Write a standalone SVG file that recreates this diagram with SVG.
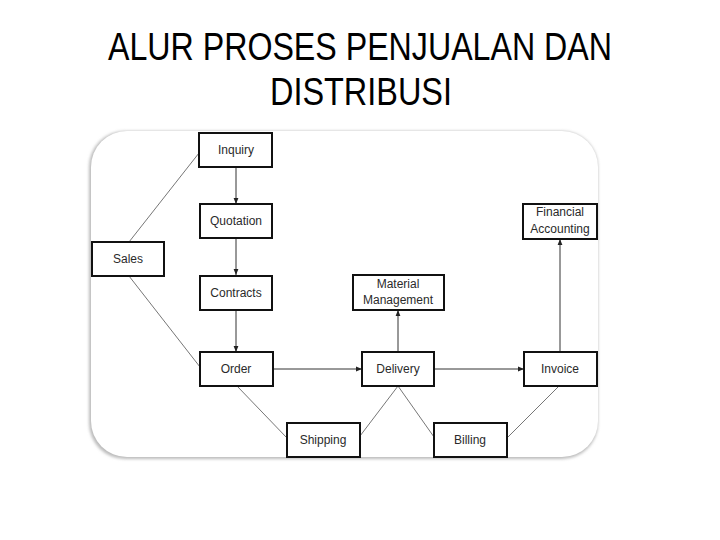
<svg xmlns="http://www.w3.org/2000/svg" width="720" height="540" viewBox="0 0 720 540">
<defs>
<style>
.title{font-family:"Liberation Sans",Arial,sans-serif;font-size:38px;fill:#000;text-anchor:middle}
.box{fill:#fff;stroke:#111;stroke-width:2}
.lbl{font-family:"Liberation Sans",Arial,sans-serif;font-size:12px;fill:#2a2a2a;text-anchor:middle}
.arr{stroke:#333;stroke-width:1;fill:none;marker-end:url(#ah)}
.lnk{stroke:#666;stroke-width:0.9;fill:none}
</style>
<marker id="ah" viewBox="0 0 10 10" refX="10" refY="5" markerWidth="6" markerHeight="6" orient="auto" markerUnits="userSpaceOnUse">
<path d="M0,1 L10,5 L0,9 Z" fill="#222"/>
</marker>
<filter id="sh" x="-5%" y="-5%" width="110%" height="110%">
<feGaussianBlur stdDeviation="1.5"/>
</filter>
</defs>
<rect width="720" height="540" fill="#fff"/>
<text class="title" x="360" y="60" textLength="504" lengthAdjust="spacingAndGlyphs">ALUR PROSES PENJUALAN DAN</text>
<text class="title" x="361" y="105" textLength="182" lengthAdjust="spacingAndGlyphs">DISTRIBUSI</text>
<rect x="89" y="131" width="509" height="328" rx="36" fill="#bbb" filter="url(#sh)"/>
<rect x="91" y="131" width="507" height="326" rx="36" fill="#fff"/>
<g id="connectors">
<line class="arr" x1="236" y1="167" x2="236" y2="204"/>
<line class="arr" x1="236" y1="238" x2="236" y2="275"/>
<line class="arr" x1="236" y1="310" x2="236" y2="352"/>
<line class="arr" x1="273" y1="369" x2="362" y2="369"/>
<line class="arr" x1="434" y1="369" x2="524" y2="369"/>
<line class="arr" x1="398" y1="352" x2="398" y2="310"/>
<line class="arr" x1="560" y1="352" x2="560" y2="239"/>
<line class="lnk" x1="129" y1="242" x2="199" y2="153"/>
<line class="lnk" x1="129" y1="276" x2="200" y2="367"/>
<line class="lnk" x1="237" y1="386" x2="287" y2="438"/>
<line class="lnk" x1="398" y1="386" x2="360" y2="436"/>
<line class="lnk" x1="398" y1="386" x2="434" y2="437"/>
<line class="lnk" x1="559" y1="386" x2="507" y2="438"/>
</g>
<g id="inquiry"><rect class="box" x="199" y="133" width="73" height="34"/><text class="lbl" x="236" y="154">Inquiry</text></g>
<g id="quotation"><rect class="box" x="200" y="204" width="72" height="34"/><text class="lbl" x="236" y="225">Quotation</text></g>
<g id="sales"><rect class="box" x="92" y="242" width="72" height="34"/><text class="lbl" x="128" y="263">Sales</text></g>
<g id="contracts"><rect class="box" x="200" y="276" width="72" height="34"/><text class="lbl" x="236" y="297">Contracts</text></g>
<g id="material"><rect class="box" x="353" y="275" width="91" height="35"/><text class="lbl" x="398" y="288">Material</text><text class="lbl" x="398" y="304">Management</text></g>
<g id="financial"><rect class="box" x="523" y="204" width="74" height="35"/><text class="lbl" x="560" y="216">Financial</text><text class="lbl" x="560" y="233">Accounting</text></g>
<g id="order"><rect class="box" x="200" y="352" width="73" height="34"/><text class="lbl" x="236" y="373">Order</text></g>
<g id="delivery"><rect class="box" x="362" y="352" width="72" height="34"/><text class="lbl" x="398" y="373">Delivery</text></g>
<g id="invoice"><rect class="box" x="524" y="352" width="73" height="34"/><text class="lbl" x="560" y="373">Invoice</text></g>
<g id="shipping"><rect class="box" x="287" y="423" width="73" height="34"/><text class="lbl" x="323" y="444">Shipping</text></g>
<g id="billing"><rect class="box" x="434" y="423" width="73" height="34"/><text class="lbl" x="470" y="444">Billing</text></g>
</svg>
